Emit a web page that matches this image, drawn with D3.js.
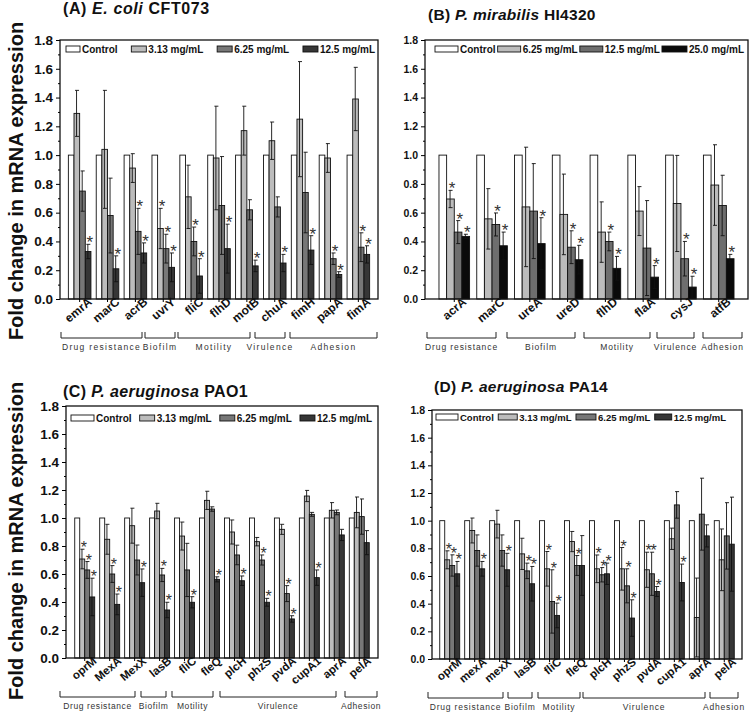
<!DOCTYPE html>
<html><head><meta charset="utf-8">
<script src="https://cdn.jsdelivr.net/npm/d3@7"></script>
<style>body{margin:0;background:#fff}svg{display:block;font-family:Arial,"Liberation Sans",sans-serif}</style>
</head><body><svg id="c" width="750" height="716"></svg>
<script>
// ---------- DATA ----------
const genesA = ["emrA","marC","acrB","uvrY","fliC","flhD","motB","chuA","fimH","papA","fimA"];
const seriesA = ["Control","3.13 mg/mL","6.25 mg/mL","12.5 mg/mL"];
const A_ctrl = [1,1,1,1,1,1,1,1,1,1,1];
const A_313 = [1.29,1.04,0.91,0.49,0.71,0.98,1.17,1.10,1.25,0.98,1.39];
const A_313e = [0.16,0.41,0.10,0.14,0.22,0.36,0.17,0.13,0.40,0.10,0.22];
const A_625 = [0.75,0.58,0.47,0.35,0.40,0.65,0.62,0.64,0.74,0.28,0.36];
const A_625e = [0.14,0.26,0.16,0.10,0.10,0.34,0.07,0.07,0.28,0.04,0.10];
const A_125 = [0.33,0.21,0.32,0.22,0.16,0.35,0.23,0.25,0.34,0.17,0.31];
const A_125e = [0.05,0.09,0.07,0.10,0.12,0.17,0.04,0.06,0.10,0.02,0.06];
const A_s313 = [0,0,0,1,0,0,0,0,0,0,0];
const A_s625 = [0,0,1,1,1,0,0,0,0,1,1];
const A_s125 = [1,1,1,1,1,1,1,1,1,1,1];
const groupsA = ["Drug resistance","Biofilm","Motility","Virulence","Adhesion"];

const genesB = ["acrA","marC","ureA","ureD","flhD","flaA","cysJ","atfB"];
const seriesB = ["Control","6.25 mg/mL","12.5 mg/mL","25.0 mg/mL"];
const B_ctrl = [1,1,1,1,1,1,1,1];
const B_625 = [0.695,0.557,0.64,0.588,0.465,0.611,0.664,0.792];
const B_625e = [0.06,0.21,0.415,0.28,0.21,0.17,0.334,0.28];
const B_125 = [0.465,0.518,0.611,0.36,0.40,0.354,0.28,0.65];
const B_125e = [0.08,0.08,0.33,0.114,0.065,0.33,0.12,0.21];
const B_250 = [0.435,0.37,0.385,0.273,0.213,0.152,0.083,0.28];
const B_250e = [0.015,0.095,0.18,0.10,0.083,0.08,0.075,0.03];
const B_s625 = [1,0,0,0,0,0,0,0];
const B_s125 = [1,1,0,1,1,0,1,0];
const B_s250 = [1,1,1,1,1,1,1,1];
const groupsB = ["Drug resistance","Biofilm","Motility","Virulence","Adhesion"];

const genesC = ["oprM","MexA","MexX","lasB","fliC","fleQ","plcH","phzS","pvdA","cupA1","aprA","pelA"];
const seriesC = ["Control","3.13 mg/mL","6.25 mg/mL","12.5 mg/mL"];
const C_ctrl = [1,1,1,1,1,1,1,1,1,1,1,1];
const C_313 = [0.707,0.848,0.945,1.05,0.871,1.126,0.90,0.831,0.919,1.157,1.055,1.04];
const C_313e = [0.07,0.107,0.125,0.055,0.10,0.065,0.086,0.03,0.036,0.04,0.055,0.11];
const C_625 = [0.629,0.60,0.70,0.593,0.629,1.064,0.736,0.70,0.46,1.026,1.04,1.01];
const C_625e = [0.06,0.06,0.107,0.047,0.19,0.016,0.07,0.036,0.057,0.014,0.017,0.126];
const C_125 = [0.436,0.383,0.538,0.343,0.398,0.562,0.552,0.398,0.279,0.574,0.879,0.824];
const C_125e = [0.134,0.074,0.098,0.055,0.04,0.018,0.034,0.028,0.023,0.055,0.04,0.086];
const C_s313 = [1,0,0,0,0,0,0,0,0,0,0,0];
const C_s625 = [1,1,0,1,0,0,0,1,1,0,0,0];
const C_s125 = [1,1,1,1,1,1,1,1,1,1,0,0];
const groupsC = ["Drug resistance","Biofilm","Motility","Virulence","Adhesion"];

const genesD = ["oprM","mexA","mexX","lasB","fliC","fleQ","plcH","phzS","pvdA","cupA1","aprA","pelA"];
const seriesD = ["Control","3.13 mg/mL","6.25 mg/mL","12.5 mg/mL"];
const D_ctrl = [1,1,1,1,1,1,1,1,1,1,1,1];
const D_313 = [0.717,0.929,0.975,0.76,0.652,0.849,0.652,0.652,0.645,0.869,0.30,0.717];
const D_313e = [0.065,0.09,0.10,0.113,0.125,0.073,0.10,0.154,0.127,0.077,0.285,0.223];
const D_625 = [0.676,0.784,0.784,0.637,0.416,0.676,0.609,0.529,0.616,1.114,1.047,0.89];
const D_625e = [0.077,0.113,0.113,0.056,0.229,0.072,0.052,0.123,0.156,0.096,0.26,0.24];
const D_125 = [0.616,0.652,0.645,0.544,0.315,0.676,0.616,0.296,0.488,0.553,0.89,0.83];
const D_125e = [0.089,0.053,0.119,0.125,0.089,0.216,0.077,0.132,0.036,0.133,0.08,0.34];
const D_s313 = [1,0,0,0,1,0,1,1,1,0,0,0];
const D_s625 = [1,0,0,1,1,1,1,1,1,0,0,0];
const D_s125 = [1,1,1,1,1,0,1,1,1,1,0,0];
const groupsD = ["Drug resistance","Biofilm","Motility","Virulence","Adhesion"];

const yTicks = [0,0.2,0.4,0.6,0.8,1.0,1.2,1.4,1.6,1.8];
const yTitle = "Fold change in mRNA expression";

// ---------- DRAW ----------
const svg = d3.select("#c");
const fillsACD = ["#ffffff","#bcbcbc","#777777","#363636"];
const fillsB = ["#ffffff","#bcbcbc","#6e6e6e","#0a0a0a"];

function panel(o){
  const g = svg.append("g");
  const y = d3.scaleLinear().domain([0,1.8]).range([o.bottom,o.top]);
  const x0 = d3.scaleBand().domain(o.genes).range([o.left,o.right]).paddingInner(o.pin).paddingOuter(o.pout);
  const x1 = d3.scaleBand().domain(d3.range(4)).range([0,x0.bandwidth()]);
  const vals = [o.ctrl,o.v1,o.v2,o.v3], errs=[null,o.e1,o.e2,o.e3], stars=[null,o.s1,o.s2,o.s3];
  for(let s=0;s<4;s++){
    o.genes.forEach((gn,i)=>{
      const bx = x0(gn)+x1(s);
      g.append("rect").attr("x",bx).attr("y",y(vals[s][i])).attr("width",x1.bandwidth())
        .attr("height",y(0)-y(vals[s][i])).attr("fill",o.fills[s]).attr("stroke","#111").attr("stroke-width",0.9);
    });
  }
  for(let s=1;s<4;s++){
    o.genes.forEach((gn,i)=>{
      const cx = x0(gn)+x1(s)+x1.bandwidth()*0.45;
      const v=vals[s][i], e=errs[s][i];
      const hi=y(v+e), lo=y(Math.max(0,v-e));
      g.append("line").attr("x1",cx).attr("x2",cx).attr("y1",hi).attr("y2",lo).attr("stroke","#111").attr("stroke-width",0.9);
      [hi,lo].forEach(yy=>g.append("line").attr("x1",cx-1.5).attr("x2",cx+2.5).attr("y1",yy).attr("y2",yy).attr("stroke","#111").attr("stroke-width",0.9));
      if(stars[s][i]){
        g.append("text").attr("x",cx+2).attr("y",hi+4).attr("text-anchor","middle")
          .attr("font-size",o.starSize).attr("fill","#333").text("*");
      }
    });
  }
  g.append("rect").attr("x",o.left).attr("y",o.top).attr("width",o.right-o.left).attr("height",o.bottom-o.top)
    .attr("fill","none").attr("stroke","#111").attr("stroke-width",1.3);
  const ya = d3.axisLeft(y).tickValues(yTicks).tickFormat(d3.format(".1f")).tickSize(4).tickPadding(3);
  const yg = g.append("g").attr("transform",`translate(${o.left},0)`).call(ya);
  yg.select(".domain").remove();
  yg.selectAll("text").attr("font-size",o.yFont).attr("font-weight","bold").attr("fill","#111").attr("font-family","Arial, Liberation Sans");
  const ym = d3.axisLeft(y).tickValues(d3.range(0.1,1.8,0.2)).tickFormat("").tickSize(2);
  const ymg = g.append("g").attr("transform",`translate(${o.left},0)`).call(ym); ymg.select(".domain").remove();
  const xa = d3.axisBottom(x0).tickSize(3).tickPadding(2);
  const xg = g.append("g").attr("transform",`translate(0,${o.bottom})`).call(xa);
  xg.select(".domain").remove();
  xg.selectAll("text").attr("font-size",o.xFont).attr("font-weight","bold").attr("fill","#111").attr("font-family","Arial, Liberation Sans")
    .attr("text-anchor","end").attr("dx","0.6em").attr("dy","0.55em").attr("transform","rotate(-40)");
  o.groups.forEach((lab,k)=>{
    const x1b = o.brk[k][0], x2b=o.brk[k][1];
    g.append("path").attr("d",`M${x1b},${o.brkY-6}V${o.brkY}H${x2b}V${o.brkY-6}`).attr("fill","none").attr("stroke","#222").attr("stroke-width",1);
    g.append("text").attr("x",(x1b+x2b)/2).attr("y",o.brkY+12).attr("text-anchor","middle")
      .attr("font-size",o.grpFont).attr("letter-spacing",o.grpLs).attr("fill","#333").text(lab);
  });
  const texts = o.series.map(sn=>g.append("text").attr("y",o.legY+3.5).attr("font-size",o.legFont).attr("font-weight","bold").attr("fill","#111").text(sn));
  const tw = texts.map(t=>t.node().getComputedTextLength());
  const total = d3.sum(tw)+d3.sum(o.legBox)+2*o.series.length;
  const gap = (o.legEnd-o.legStart-total)/(o.series.length-1);
  let lx = o.legStart;
  o.series.forEach((sn,s)=>{
    const lw=o.legBox[s];
    g.append("rect").attr("x",lx).attr("y",o.legY-3).attr("width",lw).attr("height",6).attr("fill",o.fills[s]).attr("stroke","#111").attr("stroke-width",0.9);
    texts[s].attr("x",lx+lw+2);
    lx += lw+2+tw[s]+gap;
  });
  const t = g.append("text").attr("x",o.tx).attr("y",o.ty).attr("font-size",o.tFont).attr("font-weight","bold").attr("fill","#111").attr("letter-spacing",o.tLs);
  t.append("tspan").text(o.title[0]+" ");
  t.append("tspan").attr("font-style","italic").text(o.title[1]);
  t.append("tspan").text(" "+o.title[2]);
}

panel({genes:genesA,series:seriesA,ctrl:A_ctrl,v1:A_313,e1:A_313e,v2:A_625,e2:A_625e,v3:A_125,e3:A_125e,
  s1:A_s313,s2:A_s625,s3:A_s125,groups:groupsA,fills:fillsACD,
  left:60,right:378,top:40,bottom:299,pin:0.19,pout:0.3,yFont:13.5,xFont:12,starSize:17,
  brk:[[61,142],[145,175],[178,250],[255,285],[290,377]],brkY:338,grpFont:8.5,grpLs:1.3,
  legStart:66,legEnd:375,legBox:[14,15,15,15],legY:49,legFont:10,
  tx:63,ty:14,tFont:16,tLs:0.6,title:["(A)","E. coli","CFT073"]});

panel({genes:genesB,series:seriesB,ctrl:B_ctrl,v1:B_625,e1:B_625e,v2:B_125,e2:B_125e,v3:B_250,e3:B_250e,
  s1:B_s625,s2:B_s125,s3:B_s250,groups:groupsB,fills:fillsB,
  left:425,right:748,top:40,bottom:299,pin:0.19,pout:0.37,yFont:10.5,xFont:12,starSize:17,
  brk:[[427,496],[507,575],[584,650],[657,694],[703,742]],brkY:338,grpFont:8.5,grpLs:0.9,
  legStart:435,legEnd:744,legBox:[23,23,23,25],legY:49,legFont:10,
  tx:428,ty:20,tFont:15.5,tLs:0.3,title:["(B)","P. mirabilis","HI4320"]});

panel({genes:genesC,series:seriesC,ctrl:C_ctrl,v1:C_313,e1:C_313e,v2:C_625,e2:C_625e,v3:C_125,e3:C_125e,
  s1:C_s313,s2:C_s625,s3:C_s125,groups:groupsC,fills:fillsACD,
  left:66,right:378,top:406,bottom:658,pin:0.2,pout:0.35,yFont:13.5,xFont:11.5,starSize:16,
  brk:[[60,135],[141,166],[172,213],[220,336],[345,377]],brkY:697,grpFont:8.5,grpLs:0.6,
  legStart:71,legEnd:372,legBox:[23,15,15,15],legY:418,legFont:10,
  tx:63,ty:397,tFont:16,tLs:0.4,title:["(C)","P. aeruginosa","PAO1"]});

panel({genes:genesD,series:seriesD,ctrl:D_ctrl,v1:D_313,e1:D_313e,v2:D_625,e2:D_625e,v3:D_125,e3:D_125e,
  s1:D_s313,s2:D_s625,s3:D_s125,groups:groupsD,fills:fillsACD,
  left:432,right:742,top:410,bottom:659,pin:0.2,pout:0.31,yFont:10.5,xFont:11.5,starSize:16,
  brk:[[428,503],[508,532],[538,580],[583,705],[710,738]],brkY:698,grpFont:8.5,grpLs:0.8,
  legStart:436,legEnd:726,legBox:[22,19,20,17],legY:417,legFont:9.5,
  tx:434,ty:392,tFont:15.5,tLs:0.3,title:["(D)","P. aeruginosa","PA14"]});

[181,541].forEach(cy=>{
  svg.append("text").attr("transform",`translate(23,${cy}) rotate(-90)`).attr("text-anchor","middle")
    .attr("font-size",20).attr("font-weight","bold").attr("fill","#111").text(yTitle);
});
</script></body></html>
